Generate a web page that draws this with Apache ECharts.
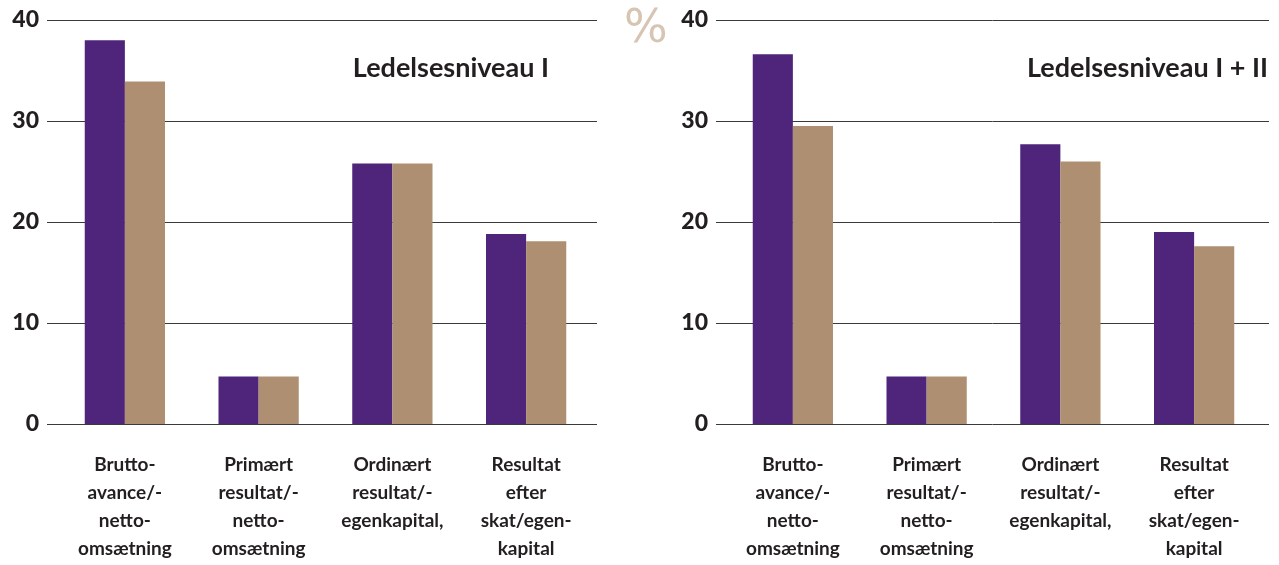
<!DOCTYPE html>
<html><head><meta charset="utf-8">
<script src="https://cdn.jsdelivr.net/npm/echarts@6/dist/echarts.min.js"></script>
<style>html,body{margin:0;padding:0;background:#fff}#c{width:1279px;height:565px}</style>
</head><body><div id="c"></div>
<script>
const categories = ["Brutto-\navance/-\nnetto-\nomsætning", "Primært\nresultat/-\nnetto-\nomsætning", "Ordinært\nresultat/-\negenkapital,", "Resultat\nefter\nskat/egen-\nkapital"];
const leftPurple = [38.0, 4.7, 25.8, 18.8];
const leftTan = [33.9, 4.7, 25.8, 18.1];
const rightPurple = [36.6, 4.7, 27.7, 19.0];
const rightTan = [29.5, 4.7, 26.0, 17.6];
const yTicks = [0, 10, 20, 30, 40];
const titles = ["Ledelsesniveau I", "Ledelsesniveau I + II"];
const unit = "%";

(function () {
const PURPLE = '#4f247b', TAN = '#ae8f71';
const FONT = 'Lato';
const INK = '#231f20';
const chart = echarts.init(document.getElementById('c'));
const gTop = 20, gBottom = 141;
const grids = [
  {left: 47, width: 550, top: gTop, bottom: gBottom},
  {left: 58, width: 535, top: gTop, bottom: gBottom},
  {left: 716, width: 553, top: gTop, bottom: gBottom},
  {left: 726, width: 535, top: gTop, bottom: gBottom}
];
const yAxes = grids.map((g, i) => ({
  type: 'value', gridIndex: i, min: 0, max: 40, interval: 10,
  show: true,
  axisLine: {show: false}, axisTick: {show: false},
  axisLabel: {show: i % 2 === 0, margin: 8, color: INK, fontFamily: FONT, fontWeight: 900, fontSize: 23,
    formatter: v => yTicks.includes(v) ? String(v) : ''},
  splitLine: {show: i % 2 === 0, lineStyle: {color: '#3a3a3a', width: 1}}
}));
const xAxes = grids.map((g, i) => i % 2 === 0 ? {
  type: 'category', gridIndex: i, data: categories, show: false
} : {
  type: 'category', gridIndex: i, data: categories,
  axisLine: {show: false}, axisTick: {show: false},
  axisLabel: {interval: 0, margin: 27, color: INK, fontFamily: FONT, fontWeight: 'bold', fontSize: 19, lineHeight: 28, align: 'center'}
});
const mk = (name, data, color, idx) => ({
  type: 'bar', name, data, xAxisIndex: idx, yAxisIndex: idx,
  itemStyle: {color}, barGap: 0, barCategoryGap: '40%', silent: true
});
chart.setOption({
  animation: false,
  grid: grids,
  xAxis: xAxes,
  yAxis: yAxes,
  title: [
    {text: titles[0], right: 725, top: 50, textStyle: {fontFamily: FONT, fontWeight: 'bold', fontSize: 27, color: INK}},
    {text: titles[1], right: 6, top: 50, textStyle: {fontFamily: FONT, fontWeight: 'bold', fontSize: 27, color: INK}},
    {text: unit, left: 619, top: 2, textStyle: {fontFamily: 'DejaVu Sans', fontWeight: 'normal', fontSize: 46, color: '#d6c5b2'}}
  ],
  series: [
    mk('a', leftPurple, PURPLE, 1), mk('b', leftTan, TAN, 1),
    mk('c', rightPurple, PURPLE, 3), mk('d', rightTan, TAN, 3)
  ]
});
})();
</script></body></html>
